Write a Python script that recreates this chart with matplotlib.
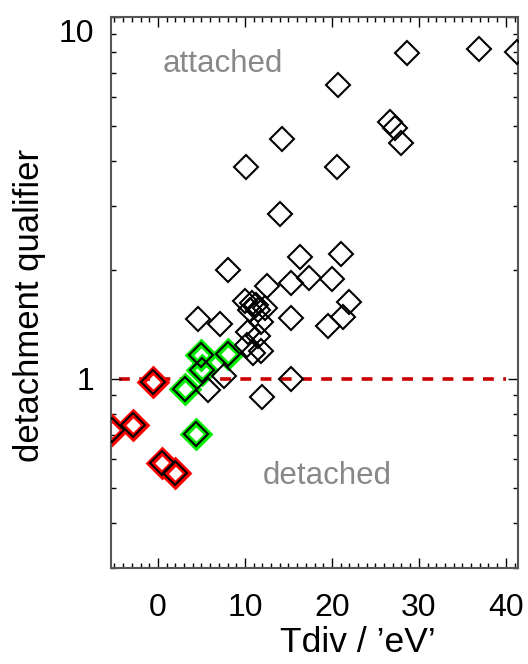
import matplotlib
matplotlib.use("Agg")
import matplotlib.pyplot as plt
import matplotlib.transforms as mtransforms
from matplotlib.ticker import MultipleLocator, LogLocator, NullFormatter, FixedLocator

plt.rcParams["font.family"] = ["Liberation Sans", "DejaVu Sans"]

# black diamonds (Tdiv, qualifier)
black_x = [10.1, 14.3, 20.6, 20.7, 14.0, 8.0, 16.3, 21.1, 15.3, 17.4, 20.0, 22.0,
           21.3, 19.5, 15.3, 15.3, 12.0, 4.6, 7.1,
           28.6, 36.9, 41.3, 26.7, 27.2, 28.0,
           12.5, 10.0, 10.8, 11.3, 10.6, 11.5, 12.3, 11.9, 10.4, 11.5, 10.2, 11.9, 10.9,
           7.6, 5.8]
black_y = [3.85, 4.6, 3.85, 6.5, 2.86, 2.0, 2.17, 2.21, 1.84, 1.90, 1.89, 1.63,
           1.48, 1.40, 1.47, 1.0, 0.89, 1.46, 1.42,
           7.95, 8.15, 8.0, 5.13, 4.94, 4.49,
           1.80, 1.64, 1.62, 1.60, 1.55, 1.55, 1.57, 1.44, 1.35, 1.31, 1.24, 1.19, 1.18,
           1.02, 0.93]

# highlighted shots
red_x = [-0.6, -2.9, -5.3, 0.46, 1.95]
red_y = [0.98, 0.746, 0.72, 0.586, 0.55]
green_x = [4.9, 8.1, 5.1, 3.1, 4.4]
green_y = [1.16, 1.17, 1.06, 0.94, 0.705]

fig = plt.figure(figsize=(5.28, 6.64), dpi=100)
ax = fig.add_axes([111 / 528, 96 / 664, 407 / 528, 551 / 664])

ax.hlines(1.0, -4.5, 40, colors="#cc0000", linewidth=2.6, linestyles=(0, (3, 2.6)), zorder=1)

ax.plot(red_x, red_y, "D", ms=12.5, mfc="none", mec="#ff0000", mew=5, zorder=2)
ax.plot(green_x, green_y, "D", ms=12.5, mfc="none", mec="#00ee00", mew=5, zorder=2)
ax.plot(black_x + red_x + green_x, black_y + red_y + green_y, "D", ms=12,
        mfc="none", mec="black", mew=1.5, zorder=3)

ax.text(7.5, 7.05, "attached", color="#888888", fontsize=22.5, ha="center", va="baseline")
ax.text(19.5, 0.513, "detached", color="#888888", fontsize=22.5, ha="center", va="baseline")

ax.set_yscale("log")
ax.set_xlim(-5.4, 41.4)
ax.set_ylim(0.3, 10)

ax.xaxis.set_major_locator(MultipleLocator(10))
ax.xaxis.set_minor_locator(MultipleLocator(1))
ax.yaxis.set_major_locator(FixedLocator([1, 10]))
ax.yaxis.set_minor_locator(LogLocator(base=10, subs=range(2, 10)))
ax.yaxis.set_minor_formatter(NullFormatter())
ax.set_yticklabels(["1", "10"])

ax.tick_params(which="both", direction="in", top=True, right=True, colors="black",
               labelsize=23, width=1)
ax.tick_params(axis="x", which="major", length=7.2, pad=18)
ax.tick_params(axis="y", which="major", length=7.2, pad=12)
ax.tick_params(which="minor", length=3.6)

for sp in ax.spines.values():
    sp.set_color("#555555")
    sp.set_linewidth(1.5)

# IDL puts the top label a bit lower
lab10 = ax.get_yticklabels()[1]
lab10.set_transform(lab10.get_transform() +
                    mtransforms.ScaledTranslation(0, -0.13, fig.dpi_scale_trans))

fig.text(358 / 528, 1 - 643 / 664, "Tdiv / \u2019eV\u2019", fontsize=25.5, ha="center", va="center")
fig.text(30 / 528, 1 - 305 / 664, "detachment qualifier", fontsize=25, rotation=90,
         ha="center", va="center")

fig.savefig("out.png", dpi=100)
